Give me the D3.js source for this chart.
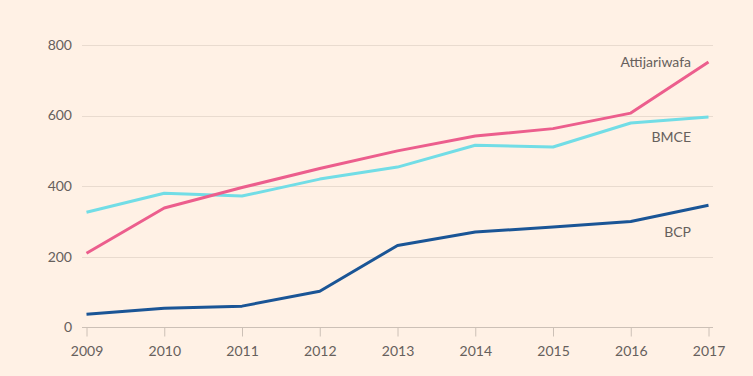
<!DOCTYPE html>
<html>
<head>
<meta charset="utf-8">
<script src="https://cdn.jsdelivr.net/npm/d3@7"></script>
<style>
  html, body { margin: 0; padding: 0; background: #fff1e5; }
  svg { display: block; font-family: Lato, "Open Sans", sans-serif; }
</style>
</head>
<body>
<div id="chart"></div>
<script>
const years = [2009, 2010, 2011, 2012, 2013, 2014, 2015, 2016, 2017];
const attijariwafa = [210, 338, 396, 450, 500, 542, 563, 607, 752];
const bmce = [326, 380, 372, 420, 454, 516, 511, 579, 596];
const bcp = [37, 54, 60, 102, 232, 270, 284, 300, 346];
const yTicks = [0, 200, 400, 600, 800];

const series = [
  { name: 'BMCE', values: bmce, color: '#72dde6', labelY: 580 - 0, labelDy: 137 },
  { name: 'Attijariwafa', values: attijariwafa, color: '#ec5e8d', labelDy: 62 },
  { name: 'BCP', values: bcp, color: '#1a5596', labelDy: 232 }
];

const width = 753, height = 376;
const svg = d3.select('#chart').append('svg')
  .attr('width', width)
  .attr('height', height);

const x = d3.scaleLinear().domain([2009, 2017]).range([86.5, 708.5]);
const y = d3.scaleLinear().domain([0, 800]).range([327.3, 45]);

// gridlines
svg.append('g')
  .selectAll('line')
  .data(yTicks.filter(d => d > 0))
  .enter()
  .append('line')
  .attr('x1', 82)
  .attr('x2', 713)
  .attr('y1', d => Math.round(y(d)) + 0.5)
  .attr('y2', d => Math.round(y(d)) + 0.5)
  .attr('stroke', '#e9dbcf')
  .attr('stroke-width', 1);

// y labels
svg.append('g')
  .selectAll('text')
  .data(yTicks)
  .enter()
  .append('text')
  .attr('x', 72)
  .attr('y', d => y(d))
  .attr('dy', '0.35em')
  .attr('text-anchor', 'end')
  .attr('fill', '#66605c')
  .style('font-size', '14px')
  .text(d => d);

// x axis
const xAxis = svg.append('g')
  .attr('transform', `translate(0, ${Math.round(y(0)) + 0.5})`)
  .call(d3.axisBottom(x).tickValues(years).tickFormat(d3.format('d')).tickSize(9).tickPadding(10));
xAxis.select('.domain').remove();
xAxis.insert('line', ':first-child')
  .attr('x1', 82).attr('x2', 713)
  .attr('stroke', '#ccc0b6');
xAxis.selectAll('.tick line').attr('stroke', '#ccc0b6');
xAxis.selectAll('.tick text')
  .attr('fill', '#66605c')
  .style('font-size', '14px')
  .style('font-family', 'Lato, "Open Sans", sans-serif');

// lines
const line = d3.line()
  .x((d, i) => x(years[i]))
  .y(d => y(d));

svg.append('g')
  .selectAll('path')
  .data(series)
  .enter()
  .append('path')
  .attr('d', d => line(d.values))
  .attr('fill', 'none')
  .attr('stroke', d => d.color)
  .attr('stroke-width', 3)
  .attr('stroke-linejoin', 'round');

// labels
svg.append('g')
  .selectAll('text')
  .data(series)
  .enter()
  .append('text')
  .attr('x', 691)
  .attr('y', d => d.labelDy)
  .attr('dy', '0.35em')
  .attr('text-anchor', 'end')
  .attr('fill', '#66605c')
  .style('font-size', '14px')
  .text(d => d.name);
</script>
</body>
</html>
